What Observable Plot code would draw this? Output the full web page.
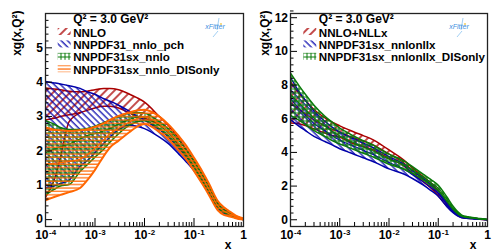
<!DOCTYPE html>
<html><head><meta charset="utf-8">
<script src="https://cdn.jsdelivr.net/npm/d3@7"></script>
<script src="https://cdn.jsdelivr.net/npm/@observablehq/plot@0.6"></script>
<style>
body{margin:0;background:#fff;}
#wrap{display:flex;width:499px;height:252px;overflow:hidden;}
</style></head><body>
<svg width="0" height="0" style="position:absolute">
<defs>
 <pattern id="hRed" width="6" height="6" patternUnits="userSpaceOnUse" patternTransform="rotate(45)"><line x1="1" y1="0" x2="1" y2="6" stroke="#aa0000" stroke-width="1.4"/></pattern>
 <pattern id="hBlue" width="4.5" height="4.5" patternUnits="userSpaceOnUse" patternTransform="rotate(-45)"><line x1="1" y1="0" x2="1" y2="4.5" stroke="#0000aa" stroke-width="1.2"/></pattern>
 <pattern id="hGreen" width="4" height="4" patternUnits="userSpaceOnUse"><path d="M1,0V4M0,1H4" stroke="#0a7a0a" stroke-width="1"/></pattern>
 <pattern id="hOrange" width="4" height="3.4" patternUnits="userSpaceOnUse"><line x1="0" y1="1" x2="4" y2="1" stroke="#ff6600" stroke-width="1.2"/></pattern>
</defs></svg>
<div id="wrap"></div>
<script>
// ---- data ----
const xs = [1e-4,1.5e-4,2e-4,3e-4,5e-4,7e-4,1e-3,1.5e-3,2e-3,3e-3,5e-3,7e-3,1e-2,2e-2,3e-2,5e-2,0.07,0.1,0.15,0.2,0.3,0.4,0.5,0.7,1];

// left panel
const L_nnlo_hi = [3.83,3.8,3.78,3.74,3.72,3.74,3.78,3.82,3.82,3.78,3.65,3.55,3.42,3.0,2.75,2.35,2.05,1.72,1.3,1.0,0.48,0.3,0.22,0.1,0.02];
const L_nnlo_lo = [2.9,2.95,3.0,3.05,3.12,3.18,3.25,3.3,3.3,3.25,3.1,3.0,2.95,2.75,2.55,2.15,1.85,1.52,1.12,0.82,0.36,0.2,0.14,0.06,0.0];
const L_nnlo_edge = [0.65,1.15,1.8,2.85,3.1];
const L_pch_hi = [4.02,3.98,3.95,3.9,3.82,3.72,3.65,3.52,3.45,3.33,3.15,3.02,2.9,2.62,2.42,2.05,1.82,1.57,1.18,0.88,0.42,0.25,0.18,0.08,0.01];
const L_pch_lo = [0.92,0.98,1.05,1.15,1.55,1.72,1.95,2.22,2.4,2.62,2.75,2.72,2.65,2.4,2.22,1.9,1.68,1.42,1.04,0.77,0.34,0.19,0.13,0.05,0.0];
const L_sx_hi = [2.88,2.78,2.68,2.62,2.62,2.65,2.72,2.82,2.9,3.0,3.1,3.12,3.1,2.85,2.65,2.3,2.02,1.7,1.28,0.97,0.47,0.29,0.2,0.1,0.02];
const L_sx_lo = [0.72,0.88,0.98,1.02,1.4,1.6,1.82,2.05,2.25,2.5,2.75,2.85,2.88,2.65,2.45,2.1,1.85,1.52,1.1,0.82,0.37,0.21,0.15,0.06,0.0];
const L_sx_c = [1.95,2.05,2.12,2.2,2.35,2.45,2.5,2.58,2.65,2.78,2.92,2.98,2.99,2.75,2.55,2.2,1.93,1.61,1.19,0.9,0.42,0.25,0.18,0.08,0.01];
const L_dis_hi = [2.68,2.62,2.6,2.58,2.6,2.63,2.7,2.8,2.9,3.02,3.12,3.18,3.2,3.0,2.78,2.42,2.15,1.8,1.38,1.05,0.55,0.36,0.26,0.12,0.03];
const L_dis_lo = [0.56,0.66,0.72,0.8,0.92,1.15,1.45,1.85,2.1,2.3,2.55,2.7,2.78,2.55,2.35,2.0,1.75,1.42,1.02,0.72,0.28,0.14,0.1,0.04,0.0];
const L_dis_c = [1.62,1.64,1.66,1.69,1.76,1.89,2.08,2.32,2.5,2.66,2.84,2.94,2.99,2.78,2.56,2.21,1.95,1.61,1.2,0.88,0.41,0.25,0.18,0.08,0.015];

// right panel
const R_nll_hi = [8.2,7.5,7.1,6.55,6.05,5.8,5.58,5.35,5.2,5.0,4.72,4.45,4.15,3.55,3.08,2.55,2.2,1.75,1.05,0.6,0.2,0.13,0.1,0.05,0.01];
const R_nll_lo = [5.75,5.7,5.6,5.4,5.15,5.0,4.9,4.65,4.5,4.35,4.12,3.9,3.65,3.2,2.75,2.25,1.9,1.42,0.8,0.45,0.13,0.09,0.07,0.03,0.0];
const R_nll_c = [6.95,6.55,6.3,5.92,5.58,5.38,5.2,4.98,4.85,4.68,4.42,4.18,3.9,3.38,2.92,2.4,2.05,1.58,0.92,0.52,0.16,0.11,0.08,0.04,0.0];
const R_sxn_hi = [8.45,7.6,7.1,6.45,5.85,5.5,5.2,4.95,4.8,4.55,4.25,4.0,3.75,3.3,2.9,2.45,2.1,1.7,1.0,0.55,0.17,0.12,0.09,0.04,0.01];
const R_sxn_lo = [5.95,5.55,5.3,4.95,4.65,4.45,4.22,4.02,3.88,3.68,3.43,3.23,3.02,2.72,2.45,2.05,1.75,1.4,0.78,0.42,0.12,0.08,0.06,0.03,0.0];
const R_sxn_c = [7.2,6.6,6.22,5.72,5.28,5.0,4.72,4.5,4.35,4.12,3.85,3.62,3.4,3.02,2.68,2.25,1.92,1.55,0.89,0.48,0.14,0.1,0.07,0.035,0.0];
const R_dis_hi = [8.7,7.95,7.45,6.8,6.15,5.8,5.45,5.15,4.95,4.7,4.4,4.15,3.9,3.5,3.15,2.7,2.4,2.05,1.35,0.8,0.28,0.18,0.14,0.07,0.02];
const R_dis_lo = [6.2,5.9,5.65,5.3,4.95,4.7,4.5,4.3,4.15,3.95,3.7,3.5,3.3,3.0,2.75,2.35,2.05,1.72,1.1,0.62,0.2,0.13,0.1,0.05,0.01];
const R_dis_c = [7.45,6.92,6.55,6.05,5.55,5.25,4.98,4.72,4.55,4.32,4.05,3.82,3.6,3.25,2.95,2.52,2.22,1.88,1.22,0.71,0.24,0.15,0.12,0.06,0.015];

// labels
const leftLegend = ["NNLO","NNPDF31_nnlo_pch","NNPDF31sx_nnlo","NNPDF31sx_nnlo_DISonly"];
const rightLegend = ["NNLO+NLLx","NNPDF31sx_nnlonllx","NNPDF31sx_nnlonllx_DISonly"];
const qLabel = "Q² = 3.0 GeV²";
const yTitle = "xg(x,Q²)";
const xTitle = "x";
const xDecades = [1e-4,1e-3,1e-2,1e-1];
const xDecadeExp = ["-4","-3","-2","-1"];
const leftYTicks = [0,1,2,3,4,5];
const rightYTicks = [0,2,4,6,8,10,12];

const RED="#aa0000", BLUE="#0000aa", GREEN="#0a7a0a", ORANGE="#ff6600";
const H=252, MT=13, MB=26;
const FONT="'Liberation Sans', Arial, Helvetica, sans-serif";

function panel(cfg){
  const plotW = cfg.width - cfg.ml - cfg.mr, plotH = H - MT - MB;
  const marks = [];
  for (const b of cfg.bands){
    const rows = xs.map((x,i)=>({x, lo:b.lo[i], hi:b.hi[i]}));
    marks.push(Plot.areaY(rows,{x:"x",y1:"lo",y2:"hi",fill:`url(#${b.pat})`,curve:"monotone-x",clip:true}));
    marks.push(Plot.line(rows,{x:"x",y:"hi",stroke:b.color,strokeWidth:b.sw,curve:"monotone-x",clip:true}));
    marks.push(Plot.line(rows,{x:"x",y:"lo",stroke:b.color,strokeWidth:b.sw,curve:"monotone-x",clip:true}));
    if (b.c) marks.push(Plot.line(xs.map((x,i)=>({x,v:b.c[i]})),{x:"x",y:"v",stroke:b.color,strokeWidth:1.2,curve:"monotone-x",clip:true}));
    if (b.edge) marks.push(Plot.line(b.edge.map((v,i)=>({x:xs[i],v})),{x:"x",y:"v",stroke:b.color,strokeWidth:1.5,curve:"monotone-x",clip:true}));
  }
  const xMinor = d3.range(-4,0).flatMap(e => d3.range(2,10).map(m => m*Math.pow(10,e)));
  const yMinor = d3.range(Math.round(cfg.yDomain[0]/cfg.yMinorStep), Math.round(cfg.yDomain[1]/cfg.yMinorStep)+1)
      .map(k=>+(k*cfg.yMinorStep).toFixed(3)).filter(v=>!cfg.yTicks.includes(v));
  marks.push(
    Plot.ruleX([...xDecades,1],{x:d=>d,insetTop:plotH-8,stroke:"#000",strokeWidth:1}),
    Plot.ruleX(xMinor,{x:d=>d,insetTop:plotH-4,stroke:"#000",strokeWidth:1}),
    Plot.ruleY(cfg.yTicks,{y:d=>d,insetRight:plotW-7,stroke:"#000",strokeWidth:1}),
    Plot.ruleY(yMinor,{y:d=>d,insetRight:plotW-3.5,stroke:"#000",strokeWidth:1}),
    Plot.frame({stroke:"#222",strokeWidth:1.3}),
    Plot.text(xDecades,{x:d=>d,frameAnchor:"bottom",dy:12.5,dx:3,textAnchor:"end",text:()=>"10",fontSize:12,fontWeight:"bold",fill:"#000"}),
    Plot.text(xDecades,{x:d=>d,frameAnchor:"bottom",dy:8.5,dx:3.5,textAnchor:"start",text:(d,i)=>xDecadeExp[i],fontSize:8,fontWeight:"bold",fill:"#000"}),
    Plot.text([1],{x:d=>d,frameAnchor:"bottom",dy:12.5,textAnchor:"middle",text:()=>"1",fontSize:12,fontWeight:"bold",fill:"#000"}),
    Plot.text(cfg.yTicks,{y:d=>d,frameAnchor:"left",dx:-2.5,textAnchor:"end",text:d=>String(d),fontSize:12,fontWeight:"bold",fill:"#000"}),
    Plot.text([xTitle],{text:d=>d,frameAnchor:"bottom-right",dx:cfg.xTitleDx,dy:22,lineAnchor:"bottom",textAnchor:"middle",fontSize:12,fontWeight:"bold",fill:"#000"}),
    Plot.text([yTitle],{text:d=>d,frameAnchor:"top-left",dx:cfg.yTitleDx,dy:-3,rotate:-90,lineAnchor:"bottom",textAnchor:"end",fontSize:12,fontWeight:"bold",fill:"#000"}),
    Plot.text([qLabel],{text:d=>d,frameAnchor:"top-left",dx:cfg.legendDx,dy:9,lineAnchor:"bottom",textAnchor:"start",fontSize:12,fontWeight:"bold",fill:"#000"})
  );
  cfg.legend.forEach((lab,i)=>{
    marks.push(Plot.text([lab],{text:d=>d,frameAnchor:"top-left",dx:cfg.legendDx,dy:23+i*12.4,lineAnchor:"bottom",textAnchor:"start",fontSize:11.6,fontWeight:"bold",fill:"#000"}));
  });
  const svg = Plot.plot({
    width: cfg.width, height: H,
    marginLeft: cfg.ml, marginRight: cfg.mr, marginTop: MT, marginBottom: MB,
    style:{fontFamily:FONT, background:"#fff", overflow:"visible"},
    x:{type:"log", domain:[1e-4,1], axis:null},
    y:{domain:cfg.yDomain, axis:null},
    marks
  });
  // legend swatches
  const s = d3.select(svg);
  const tx = cfg.ml + cfg.legendDx;
  cfg.bands.forEach((b,i)=>{
    const base = MT + 23 + i*12.4;
    s.append("rect").attr("x",tx-15).attr("y",base-8).attr("width",13).attr("height",7)
      .attr("fill",`url(#${b.pat})`);
  });
  // xFitter logo (decorative)
  const lx = cfg.width - cfg.mr - 29, ly = MT + 15;
  const g = s.append("g");
  g.append("path").attr("d",`M${lx+5},${ly-10} L${lx+3},${ly+2} M${lx-1},${ly+9} L${lx+4},${ly+3}`).attr("stroke","#8cc4f0").attr("stroke-width",0.8).attr("fill","none");
  g.append("circle").attr("cx",lx+7).attr("cy",ly-4).attr("r",0.9).attr("fill","#f2c94c");
  g.append("text").attr("x",lx+1).attr("y",ly+1).attr("font-size",7).attr("font-style","italic").attr("font-family",FONT).attr("fill","#3d8fe0").text("xFitter");
  return svg;
}

const left = panel({
  width:250, ml:45, mr:7, yDomain:[-0.2,6.0], yTicks:leftYTicks, yMinorStep:0.2,
  xTitleDx:-15.5, yTitleDx:-24.5, legendDx:27.7, legend:leftLegend,
  bands:[
    {lo:L_nnlo_lo, hi:L_nnlo_hi, edge:L_nnlo_edge, pat:"hRed", color:RED, sw:1.5},
    {lo:L_pch_lo, hi:L_pch_hi, pat:"hBlue", color:BLUE, sw:1.5},
    {lo:L_sx_lo, hi:L_sx_hi, c:L_sx_c, pat:"hGreen", color:GREEN, sw:1.5},
    {lo:L_dis_lo, hi:L_dis_hi, c:L_dis_c, pat:"hOrange", color:ORANGE, sw:2}
  ]
});
const right = panel({
  width:249, ml:40, mr:12, yDomain:[-0.4,12.25], yTicks:rightYTicks, yMinorStep:0.4,
  xTitleDx:-14.5, yTitleDx:-21.5, legendDx:28.3, legend:rightLegend,
  bands:[
    {lo:R_nll_lo, hi:R_nll_hi, c:R_nll_c, pat:"hRed", color:RED, sw:1.5},
    {lo:R_sxn_lo, hi:R_sxn_hi, c:R_sxn_c, pat:"hBlue", color:BLUE, sw:1.5},
    {lo:R_dis_lo, hi:R_dis_hi, c:R_dis_c, pat:"hGreen", color:GREEN, sw:1.5}
  ]
});
document.getElementById("wrap").append(left, right);
</script>
</body></html>
